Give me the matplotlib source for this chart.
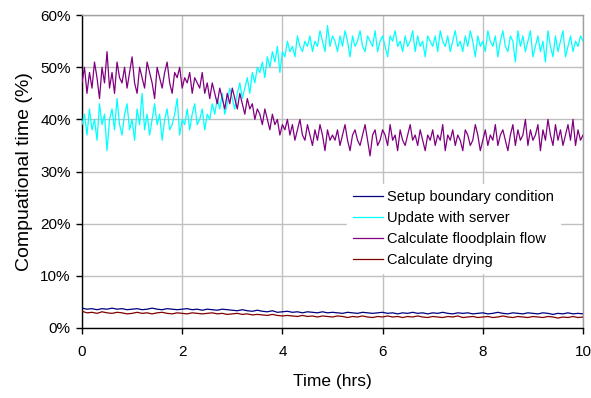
import numpy as np
import matplotlib
matplotlib.use("Agg")
import matplotlib.pyplot as plt
from matplotlib.ticker import FuncFormatter

plt.rcParams['font.family'] = ['Liberation Sans', 'DejaVu Sans']

# Time axes (hrs)
t_main = np.linspace(0, 10, 201)
t_small = np.linspace(0, 10, 101)

update_server = [
    39, 41, 37, 42, 38, 40, 36, 43, 39, 41, 34, 40, 42, 38, 44, 39, 37, 41, 43, 38,
    40, 36, 42, 39, 45, 38, 41, 37, 40, 43, 39, 41, 36, 40, 42, 38, 39, 41, 44, 37,
    40, 39, 42, 38, 41, 43, 39, 40, 42, 38, 41,
    40, 43, 41, 44, 42, 45, 41, 43, 46, 44,
    42, 45, 47, 44, 46, 48, 45, 49, 47, 50,
    49, 51, 48, 52, 50, 53, 51, 54, 49, 53,
    52, 55, 53, 54, 52, 56, 54, 53, 55, 54,
    56, 53, 55, 54, 57, 55, 53, 58, 54, 56,
    55, 53, 56, 54, 57, 55, 52, 56, 54, 55,
    57, 54, 53, 56, 55, 54, 57, 53, 55, 56,
    54, 52, 56, 55, 57, 54, 55, 53, 56, 54,
    55, 57, 53, 56, 54, 55, 52, 56, 55, 54,
    56, 53, 57, 55, 54, 56, 53, 55, 57, 54,
    55, 53, 56, 54, 57, 55, 52, 56, 54, 55,
    53, 57, 55, 54, 56, 52, 55, 57, 54, 53,
    56, 55, 51, 57, 54, 56, 53, 55, 57, 52,
    54, 56, 53, 55, 51, 57, 54, 52, 56, 53,
    55, 57, 52, 54, 56, 53, 55, 54, 56, 55,
]

floodplain = [
    47, 50, 45, 49, 46, 51, 48, 44, 50, 47,
    53, 46, 49, 45, 51, 48, 47, 50, 46, 49,
    52, 47, 45, 50, 48, 46, 51, 49, 47, 44,
    50, 48, 46, 49, 51, 47, 45, 49, 48, 50,
    46, 48, 47, 49, 45, 48, 47, 46, 49, 45, 47,
    44, 47, 45, 43, 46, 44, 42, 45, 43, 46,
    44, 42, 45, 43, 41, 44, 42, 43, 40, 42,
    41, 39, 42, 40, 38, 41, 39, 40, 37, 39,
    38, 40, 37, 39, 36, 38, 40, 37, 36, 39,
    37, 35, 38, 36, 39, 37, 34, 38, 36, 37,
    36, 38, 35, 37, 39, 36, 34, 37, 38, 36,
    35, 37, 39, 36, 33, 37, 38, 35, 36, 38,
    37, 35, 39, 36, 37, 34, 38, 36, 35, 37,
    39, 36, 37, 35, 38, 36, 34, 37, 36, 38,
    35, 37, 36, 39, 34, 37, 36, 38, 35, 37,
    36, 34, 38, 37, 35, 36, 39, 37, 34, 36,
    38, 35, 37, 36, 39, 35, 37, 38, 36, 34,
    37, 39, 35, 38, 36, 37, 40, 35, 38, 36,
    37, 39, 34, 38, 36, 40, 37, 35, 39, 36,
    38, 35, 37, 39, 36, 40, 35, 38, 36, 37,
]

setup_boundary = [
    3.8, 3.6, 3.7, 3.5, 3.7, 3.6, 3.8, 3.6, 3.7, 3.5,
    3.6, 3.7, 3.5, 3.6, 3.8, 3.6, 3.5, 3.7, 3.6, 3.5,
    3.6, 3.7, 3.5, 3.6, 3.4, 3.6, 3.5, 3.4, 3.6, 3.5,
    3.4, 3.3, 3.5, 3.3, 3.2, 3.4, 3.2, 3.1, 3.3, 3.0,
    3.1, 3.2, 3.0, 3.1, 2.9, 3.1, 3.0, 2.9, 3.1, 2.9,
    3.0, 2.9, 2.8, 3.0, 2.9, 2.8, 3.0, 2.9, 2.8, 2.9,
    3.0, 2.8, 2.9, 2.7, 2.9, 2.8, 3.0, 2.8, 2.9, 2.7,
    2.9, 2.8, 3.0, 2.8, 2.7, 2.9, 2.8, 2.9, 2.7, 2.8,
    2.9, 2.7, 2.8, 3.0, 2.8, 2.7, 2.9, 2.8, 2.7, 2.9,
    2.8, 2.7, 2.9, 2.8, 2.6, 2.8, 2.7, 2.9, 2.7, 2.8, 2.7,
]

drying = [
    3.2, 2.9, 3.0, 2.8, 3.1, 2.9, 2.8, 3.0, 2.9, 2.7,
    2.8, 3.0, 2.8, 2.9, 2.7, 2.9, 3.0, 2.8, 2.7, 2.9,
    2.8, 2.7, 2.9, 2.8, 2.7, 2.8, 2.9, 2.7, 2.8, 2.6,
    2.7, 2.8, 2.6, 2.7, 2.5, 2.6, 2.5, 2.4, 2.6, 2.4,
    2.3, 2.4, 2.3, 2.2, 2.4, 2.2, 2.3, 2.1, 2.3, 2.2,
    2.1, 2.3, 2.2, 2.0, 2.2, 2.1, 2.3, 2.1, 2.0, 2.2,
    2.1, 2.3, 2.1, 2.2, 2.0, 2.2, 2.1, 2.3, 2.1, 2.0,
    2.2, 2.1, 2.0, 2.2, 2.1, 2.3, 2.0, 2.1, 2.2, 2.0,
    2.1, 2.2, 2.0, 2.1, 2.3, 2.1, 2.0, 2.2, 2.1, 2.0,
    2.2, 2.1, 2.0, 2.2, 2.1, 1.9, 2.1, 2.0, 2.2, 2.0, 2.1,
]

labels = ["Setup boundary condition", "Update with server",
          "Calculate floodplain flow", "Calculate drying"]
x_ticks = [0, 2, 4, 6, 8, 10]
y_ticks = [0, 10, 20, 30, 40, 50, 60]

fig = plt.figure(figsize=(5.91, 3.98), dpi=100)
ax = fig.add_axes([0.1387, 0.176, 0.8478, 0.786])

ax.plot(t_small, setup_boundary, color='#000080', lw=0.9, label=labels[0], zorder=3)
ax.plot(t_main, update_server, color='#00FFFF', lw=0.9, label=labels[1], zorder=3)
ax.plot(t_main, floodplain, color='#800080', lw=0.9, label=labels[2], zorder=3)
ax.plot(t_small, drying, color='#800000', lw=0.9, label=labels[3], zorder=3)

ax.set_xlim(0, 10)
ax.set_ylim(0, 60)
ax.set_xticks(x_ticks)
ax.set_yticks(y_ticks)
ax.yaxis.set_major_formatter(FuncFormatter(lambda v, p: f"{int(v)}%"))
ax.grid(True, color='#c0c0c0', lw=1.0, zorder=0)
ax.set_axisbelow(True)

for s in ['top', 'right']:
    ax.spines[s].set_color('#a0a0a0')
    ax.spines[s].set_linewidth(1.0)
for s in ['left', 'bottom']:
    ax.spines[s].set_color('black')
    ax.spines[s].set_linewidth(1.0)

ax.tick_params(axis='both', direction='out', length=4, width=1, labelsize=11, colors='black')
ax.tick_params(axis='x', pad=8)
ax.tick_params(axis='y', pad=4)

ax.set_xlabel("Time (hrs)", fontsize=12.5, labelpad=11)
ax.set_ylabel("Compuational time (%)", fontsize=14, labelpad=5)

leg = ax.legend(loc='upper left', bbox_to_anchor=(0.515, 0.484), fontsize=10.5,
                frameon=True, fancybox=False, edgecolor='white', facecolor='white',
                framealpha=1.0, handlelength=2.05, handletextpad=0.3,
                labelspacing=0.48, borderpad=0.4)
leg.set_zorder(5)

fig.savefig("out.png", dpi=100)
